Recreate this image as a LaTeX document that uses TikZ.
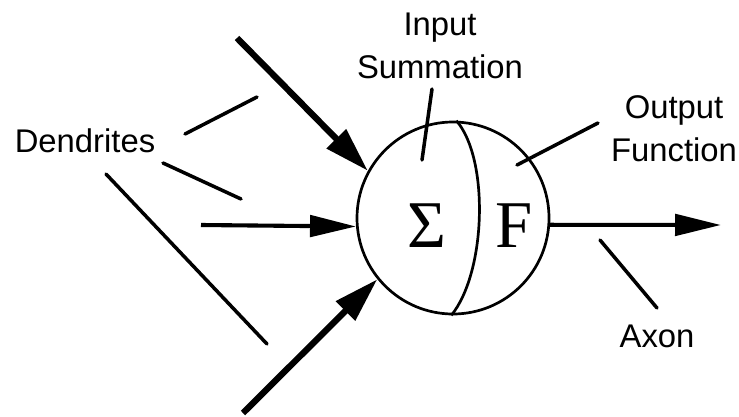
\documentclass[tikz,border=0pt]{standalone}
\usepackage{fontspec}
\setmainfont{Liberation Sans}
\newfontfamily\glyphfont{Liberation Serif}
\usetikzlibrary{arrows.meta, positioning, calc}

\begin{document}
\begin{tikzpicture}[
    x=0.03cm, y=-0.03cm,
    font=\fontsize{28}{36.5}\selectfont,
    lbl/.style={align=center, inner sep=0pt},
    sym/.style={inner sep=0pt, font=\glyphfont\fontsize{57}{60}\selectfont},
    lead/.style={line width=3pt, line cap=round},
    feed/.style={-{Triangle[length=1.35cm, width=0.78cm]}, line width=5.4pt},
    flow/.style={-{Triangle[length=1.38cm, width=0.64cm]}, line width=3.5pt},
]
\useasboundingbox (0,0) rectangle (739,416);

% cuerpo de la neurona
\node[draw, circle, line width=2.3pt, minimum size=5.76cm, inner sep=0pt] (soma) at (453,218) {};
\draw[line width=2.3pt] (soma.88) .. controls ($(soma.88)+(33,38)$) and ($(soma.269)+(35,-43)$) .. (soma.269);
\node[sym] (sigma) at (427,225.5) {Σ};
\node[sym] (func) at (514,225.5) {F};

% entradas
\coordinate (inTop) at (237,38);
\coordinate (inMid) at (201,225);
\coordinate (inLow) at (243,413);
\coordinate (outEnd) at (721,225);
\draw[feed] (inTop) -- (soma.151);
\draw[flow] (inMid) -- (soma.185);
\draw[feed] (inLow) -- (soma.219);
\draw[flow] (soma.-4.5) -- (outEnd);

% etiquetas
\node[lbl] (dend) at (85,140.5) {Dendrites};
\node[lbl] (summ) at (440,46) {Input\\Summation};
\node[lbl] (outf) at (674,129) {Output\\Function};
\node[lbl] (axon) at (657,336.5) {Axon};

% lineas guia
\coordinate (d1a) at (185,134); \coordinate (d1b) at (257,97);
\coordinate (d2a) at (163,163); \coordinate (d2b) at (241,199);
\coordinate (d3a) at (106,174); \coordinate (d3b) at (267,344);
\coordinate (s1a) at (432,89);  \coordinate (s1b) at (422,160);
\coordinate (o1a) at (598,123); \coordinate (o1b) at (517,165);
\coordinate (a1a) at (600,240); \coordinate (a1b) at (657,308);
\draw[lead] (d1a) -- (d1b);
\draw[lead] (d2a) -- (d2b);
\draw[lead] (d3a) -- (d3b);
\draw[lead] (s1a) -- (s1b);
\draw[lead] (o1a) -- (o1b);
\draw[lead] (a1a) -- (a1b);

\end{tikzpicture}
\end{document}
